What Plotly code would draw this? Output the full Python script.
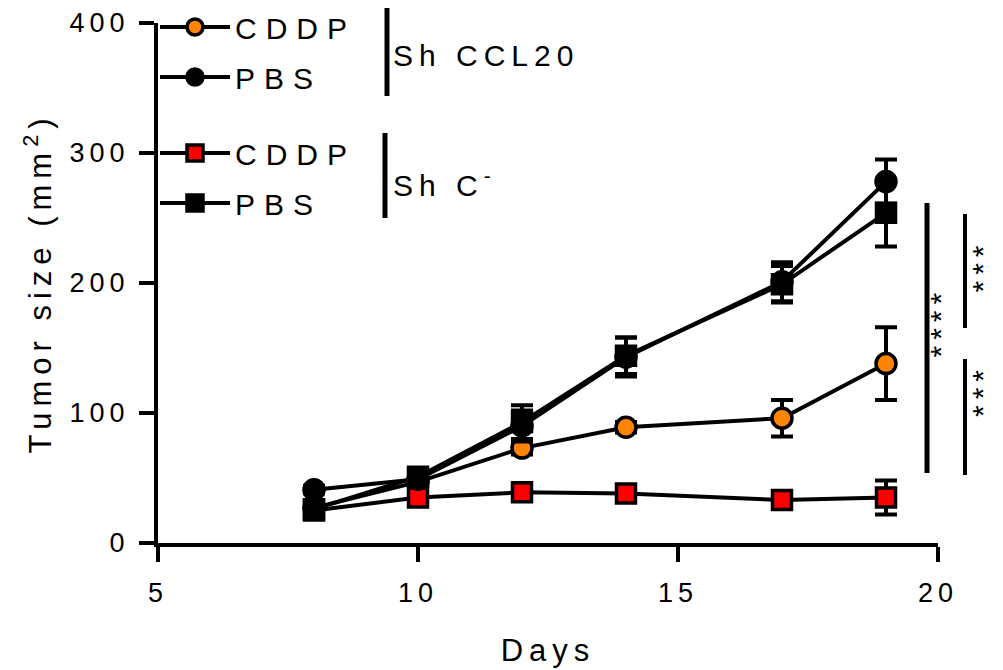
import plotly.graph_objects as go

# ---------------- data ----------------
days = [8, 10, 12, 14, 17, 19]

cddp_ccl20 = [27, 47, 73, 89, 96, 138]
cddp_ccl20_err = [3, 4, 5, 4, 14, 28]

pbs_ccl20 = [41, 49, 90, 143, 201, 278]
pbs_ccl20_err = [3, 4, 12, 15, 15, 17]

cddp_shc = [25, 35, 39, 38, 33, 35]
cddp_shc_err = [2, 3, 3, 3, 3, 13]

pbs_shc = [26, 51, 93, 144, 199, 254]
pbs_shc_err = [3, 5, 13, 14, 14, 26]

x_ticks = [5, 10, 15, 20]
y_ticks = [0, 100, 200, 300, 400]

# ---------------- layout helpers ----------------
W, H = 1003, 670
ML, MR, MT, MB = 158, 65, 23, 127
PW = W - ML - MR
PH = H - MT - MB


def px(xpix):
    return (xpix - ML) / PW


def py(ypix):
    return (H - MB - ypix) / PH


FONT = "Liberation Sans, Arial, sans-serif"
ORANGE = "#FF8400"
RED = "#FF0000"

fig = go.Figure()


def add(name, y, err, symbol, fill, legend, size, rank):
    fig.add_trace(go.Scatter(
        x=days, y=y, name=name, legend=legend, legendrank=rank,
        legendgroup=name + legend,
        mode="lines+markers",
        line=dict(color="black", width=4),
        marker=dict(symbol=symbol, size=size, color=fill,
                    line=dict(color="black", width=3.5)),
        error_y=dict(type="data", array=err, visible=True,
                     color="black", thickness=4, width=11),
        cliponaxis=False,
    ))


add("CDDP", cddp_ccl20, cddp_ccl20_err, "circle", ORANGE, "legend", 20, 1)
add("CDDP", cddp_shc, cddp_shc_err, "square", RED, "legend2", 19, 1)
add("PBS", pbs_ccl20, pbs_ccl20_err, "circle", "black", "legend", 20, 2)
add("PBS", pbs_shc, pbs_shc_err, "square", "black", "legend2", 19, 2)

legend_common = dict(
    font=dict(family=FONT, size=30, color="black"),
    bgcolor="rgba(0,0,0,0)", borderwidth=0,
    xanchor="left", yanchor="top",
    itemwidth=70, tracegroupgap=8,
    traceorder="grouped",
    itemclick=False, itemdoubleclick=False,
)

shapes = []
annotations = []


def vbar(xpix, y0pix, y1pix, w):
    shapes.append(dict(type="line", xref="paper", yref="paper",
                       x0=px(xpix), x1=px(xpix), y0=py(y0pix), y1=py(y1pix),
                       line=dict(color="black", width=w)))


# legend group brackets
vbar(387, 8, 96, 5)
vbar(385, 133, 218, 5)
annotations.append(dict(xref="paper", yref="paper", x=px(391), y=py(55),
                        xanchor="left", yanchor="middle", align="left",
                        text="Sh CCL20", showarrow=False,
                        font=dict(family=FONT, size=30, color="black")))
annotations.append(dict(xref="paper", yref="paper", x=px(391), y=py(183),
                        xanchor="left", yanchor="middle", align="left",
                        text="Sh C<sup>-</sup>", showarrow=False,
                        font=dict(family=FONT, size=30, color="black")))

# significance brackets
vbar(927, 203, 473, 5)
vbar(965, 214, 328, 4)
vbar(965, 359, 475, 4)
annotations.append(dict(xref="paper", yref="paper", x=px(958), y=py(322),
                        text="****", textangle=-90, showarrow=False,
                        font=dict(family=FONT, size=30, color="black")))
annotations.append(dict(xref="paper", yref="paper", x=px(1000), y=py(266),
                        text="***", textangle=-90, showarrow=False,
                        font=dict(family=FONT, size=30, color="black")))
annotations.append(dict(xref="paper", yref="paper", x=px(1001), y=py(410),
                        text="***", textangle=-90, showarrow=False,
                        font=dict(family=FONT, size=30, color="black")))

axis_common = dict(
    showgrid=False, zeroline=False, automargin=False,
    showline=True, linecolor="black", linewidth=4,
    ticks="outside", ticklen=15, tickwidth=4, tickcolor="black",
    tickfont=dict(family=FONT, size=27, color="black"),
    title_font=dict(family=FONT, size=31, color="black"),
)

fig.update_layout(
    width=W, height=H,
    margin=dict(l=ML, r=MR, t=MT, b=MB, pad=0, autoexpand=False),
    paper_bgcolor="white", plot_bgcolor="white",
    xaxis=dict(range=[5, 20], tickvals=x_ticks, ticklabelstandoff=8,
               title=dict(text="Days", standoff=33), **axis_common),
    yaxis=dict(range=[0, 400], tickvals=y_ticks, ticklabelstandoff=4,
               title=dict(text="Tumor size (mm<sup>2</sup>)", standoff=25),
               **axis_common),
    legend=dict(x=px(155), y=py(1), **legend_common),
    legend2=dict(x=px(155), y=py(127), **legend_common),
    shapes=shapes, annotations=annotations,
    showlegend=True,
)

post = """
document.body.style.margin = '0';
var gd = document.getElementById('{plot_id}');
function applySpacing() {
  gd.querySelectorAll('.xtick text, .ytick text').forEach(function(t) {
    t.style.letterSpacing = '5px';
  });
  gd.querySelectorAll('.infolayer text').forEach(function(t) {
    if (t.closest('.g-xtitle') || t.closest('.g-ytitle') || t.closest('.annotation')) {
      t.style.letterSpacing = '6px';
    } else {
      t.style.letterSpacing = '9px';
    }
  });
  gd.querySelectorAll('.infolayer [clip-path]').forEach(function(e) {
    if (!e.closest('.annotation')) { e.removeAttribute('clip-path'); }
  });
}
applySpacing();
setTimeout(applySpacing, 0);
setTimeout(applySpacing, 200);
"""

fig.write_html("out.html", post_script=post,
               config={"displayModeBar": False, "staticPlot": True})
